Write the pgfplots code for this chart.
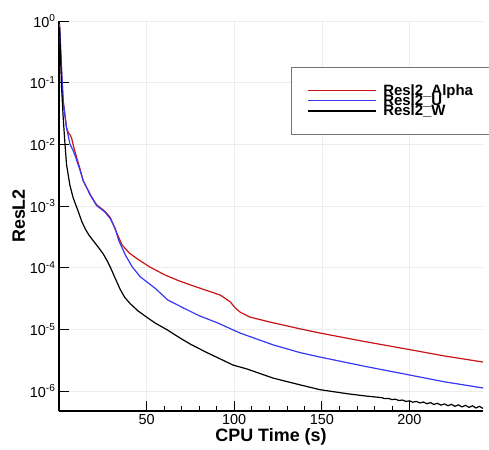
\documentclass[border=0pt]{standalone}
\usepackage{pgfplots}
\pgfplotsset{compat=1.18}
\usepackage{fontspec}
\setmainfont{Liberation Sans}
\definecolor{cred}{RGB}{200,20,20}
\definecolor{cblue}{RGB}{55,55,245}
\begin{document}
\begin{tikzpicture}[x=1bp,y=1bp]
\begin{semilogyaxis}[
  name=ax,
  scale only axis,
  width=424bp, height=390bp,
  xmin=0, xmax=242,
  ymin=4.74e-7, ymax=1,
  axis x line*=bottom, axis y line*=left,
  axis line style={line width=1.4pt, -},
  xtick={50,100,150,200},
  minor x tick num=4,
  ytick={1,1e-1,1e-2,1e-3,1e-4,1e-5,1e-6},
  yticklabel={10\textsuperscript{\pgfmathparse{int(round(\tick/ln(10)))}\pgfmathresult}},
  /pgf/number format/assume math mode=true,
  tick align=inside,
  major tick length=10bp, minor tick length=5bp,
  every tick/.style={black, line width=0.9pt},
  minor tick style={line width=0.5pt},
  grid=major,
  major grid style={gray!15, line width=0.5pt},
  ticklabel style={font=\fontsize{14.5}{16}\selectfont},
  xlabel={\textbf{CPU Time (s)}},
  ylabel={\textbf{ResL2}},
  label style={font=\fontsize{18}{20}\selectfont},
  xlabel style={yshift=3bp},
  ylabel style={yshift=-2bp},
  legend style={at={(rel axis cs:0.547,0.882)}, anchor=north west,
    draw=black!55, fill=white,
    inner xsep=16bp, inner ysep=15bp,
    font=\fontsize{15}{17}\selectfont\bfseries,
    row sep=-6bp},
  legend cell align=left,
  legend image code/.code={\draw[#1] (0bp,0bp) -- (68bp,0bp);},
]
\addplot[cred, line width=1.2pt] coordinates {
(0.3,0.89)(1.4,0.174)(2.4,0.05)(4.3,0.0186)(5.5,0.0151)(6.2,0.0145)(7.2,0.0126)
(8.1,9.8e-3)(9.4,7.1e-3)(12,4.0e-3)(13.8,2.57e-3)(18,1.51e-3)(21.4,1.05e-3)
(26,8.3e-4)(29.3,6.5e-4)(32.2,4.1e-4)(36,2.34e-4)(40,1.74e-4)(45.3,1.35e-4)
(52,1.02e-4)(60.6,7.6e-5)(68,6.2e-5)(75,5.25e-5)(85,4.2e-5)(92,3.6e-5)
(97.7,2.8e-5)(100.5,2.24e-5)(103.4,1.9e-5)(109,1.58e-5)(120,1.32e-5)
(137.5,1.02e-5)(149,8.7e-6)(175,6.3e-6)(200,4.7e-6)(220,3.7e-6)(242,2.95e-6)
};
\addlegendentry{\hspace{5bp}Resl2\_Alpha\hspace{-13bp}}
\addplot[cblue, line width=1.2pt] coordinates {
(0.3,0.89)(1.4,0.174)(2.4,0.05)(4.3,0.0186)(6.3,0.0100)(8.1,7.9e-3)(9.4,6.3e-3)
(12,3.8e-3)(13.8,2.57e-3)(18,1.48e-3)(21.4,1.02e-3)(26,8.1e-4)(29.3,6.2e-4)
(32,4.4e-4)(34,2.8e-4)(38,1.58e-4)(41.9,1.02e-4)(46.4,7.1e-5)(55,4.6e-5)
(62,3.0e-5)(70,2.3e-5)(80,1.66e-5)(90,1.29e-5)(103.4,8.7e-6)(122.2,5.6e-6)
(137.5,4.2e-6)(149,3.55e-6)(175,2.5e-6)(200,1.82e-6)(220,1.41e-6)(242,1.12e-6)
};
\addlegendentry{\hspace{5bp}Resl2\_U}
\addplot[black, line width=1.2pt] coordinates {
(0.3,0.79)(0.8,0.316)(1.4,0.091)(2.4,0.027)(3.3,0.0112)(4.3,4.7e-3)(6.2,2.19e-3)
(8.1,1.35e-3)(10.9,8.3e-4)(13,5.6e-4)(15.1,4.2e-4)(17,3.4e-4)(20,2.63e-4)
(22.7,2.1e-4)(25.3,1.66e-4)(27.3,1.32e-4)(29.3,1.02e-4)(32,6.8e-5)(35,4.4e-5)
(37.5,3.3e-5)(40.7,2.6e-5)(45,2.0e-5)(50.4,1.55e-5)(55,1.26e-5)(61.8,9.8e-6)
(69.2,7.2e-6)(75,5.75e-6)(84.4,4.2e-6)(99.4,2.63e-6)(107,2.29e-6)(122.2,1.62e-6)
(137.5,1.26e-6)(149,1.05e-6)(165,9.0e-7)(175,8.3e-7)
(184,7.82e-7)(186,7.52e-7)(188,7.59e-7)(190,7.26e-7)(192,7.36e-7)(194,7.02e-7)
(196,7.14e-7)(198,6.78e-7)(200,6.93e-7)(202,6.58e-7)(204,6.78e-7)(206,6.40e-7)
(208,6.62e-7)(210,6.22e-7)(212,6.49e-7)(214,6.05e-7)(216,6.32e-7)(218,5.90e-7)
(220,6.18e-7)(222,5.77e-7)(224,6.07e-7)(226,5.65e-7)(228,5.96e-7)(230,5.53e-7)
(232,5.85e-7)(234,5.43e-7)(236,5.74e-7)(238,5.31e-7)(240,5.64e-7)(242,5.21e-7)
};
\addlegendentry{\hspace{5bp}Resl2\_W}
\end{semilogyaxis}
\pgfresetboundingbox
\path (ax.south west) ++(-59bp,-39bp) coordinate (bl);
\path (ax.north east) ++(6bp,21bp) coordinate (tr);
\useasboundingbox (bl) rectangle (tr);
\end{tikzpicture}
\end{document}
